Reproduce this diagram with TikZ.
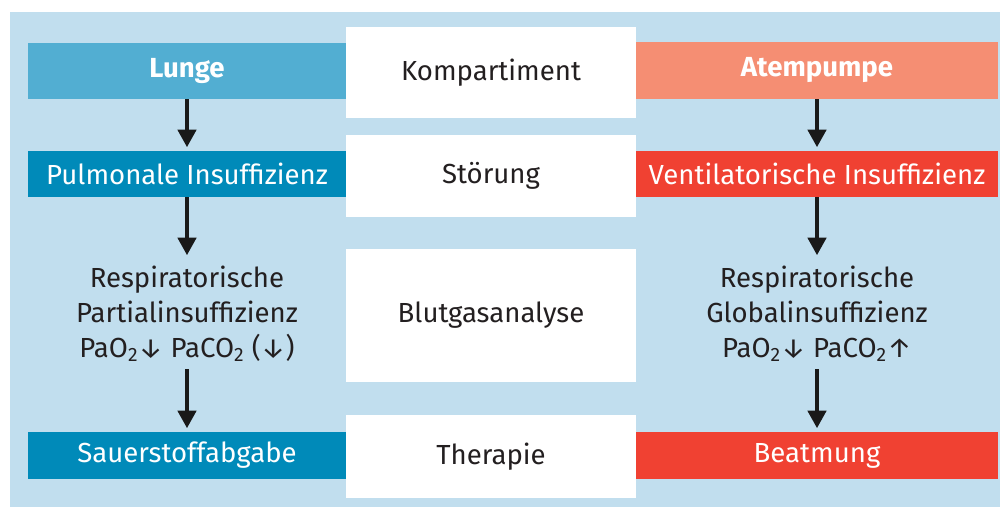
\documentclass[tikz,border=0pt]{standalone}
\usepackage{fontspec}
\setmainfont{Fira Sans}
\usepackage{tikz}
\usetikzlibrary{positioning,arrows.meta}
\definecolor{bgblue}{RGB}{193,222,238}
\definecolor{lungblue}{RGB}{82,174,210}
\definecolor{darkblue}{RGB}{0,138,185}
\definecolor{pumpsalmon}{RGB}{245,142,115}
\definecolor{pumpred}{RGB}{240,65,50}
\definecolor{textgray}{RGB}{35,31,32}

\begin{document}
\begin{tikzpicture}[x=0.02cm, y=-0.02cm,
    every node/.style={inner sep=0pt, font=\fontsize{15.7}{19.8}\selectfont, text=textgray},
    leftbox/.style={rectangle, minimum width=6.36cm, text=white},
    rightbox/.style={rectangle, minimum width=7.24cm, text=white},
    midbox/.style={rectangle, fill=white, minimum width=5.8cm},
    gastext/.style={align=center, minimum height=2.2cm},
    flow/.style={-{Triangle[width=10.5pt,length=10pt]}, line width=2pt, black!90, shorten >=2pt}]
    % Background
    \useasboundingbox (0,0) rectangle (1000,507);
    \fill[bgblue] (10,12) rectangle (1000,507);

    % Middle column
    \node[midbox, minimum height=1.82cm] (komp) at (491,72.5) {Kompartiment};
    \node[midbox, minimum height=1.64cm] (stoer) at (491,176) {Störung};
    \node[midbox, minimum height=2.66cm] (bga) at (491,315.5) {Blutgasanalyse};
    \node[midbox, minimum height=1.66cm] (ther) at (491,456.5) {Therapie};

    % Lung column
    \node[leftbox, fill=lungblue, minimum height=1.12cm, font=\fontsize{15.7}{19.8}\selectfont\bfseries] (lunge) at (187,71) {Lunge};
    \node[leftbox, fill=darkblue, minimum height=0.92cm] (pulm) at (187,174) {Pulmonale Insuffizienz};
    \node[gastext] (partial) at (187,314) {Respiratorische\\Partialinsuffizienz\\PaO\textsubscript{2}↓ PaCO\textsubscript{2} (↓)};
    \node[leftbox, fill=darkblue, minimum height=0.94cm] (sauer) at (187,455.5) {Sauerstoffabgabe};

    % Pump column
    \node[rightbox, fill=pumpsalmon, minimum height=1.14cm, font=\fontsize{15.7}{19.8}\selectfont\bfseries] (pumpe) at (817,70.5) {Atempumpe};
    \node[rightbox, fill=pumpred, minimum height=0.92cm] (vent) at (817,174) {Ventilatorische Insuffizienz};
    \node[gastext] (global) at (817,314) {Respiratorische\\Globalinsuffizienz\\PaO\textsubscript{2}↓ PaCO\textsubscript{2}↑};
    \node[rightbox, fill=pumpred, minimum height=0.94cm] (beat) at (817,455.5) {Beatmung};

    % Arrows
    \draw[flow] (lunge) -- (pulm);
    \draw[flow] (pulm) -- (partial);
    \draw[flow] (partial) -- (sauer);
    \draw[flow] (pumpe) -- (vent);
    \draw[flow] (vent) -- (global);
    \draw[flow] (global) -- (beat);
\end{tikzpicture}
\end{document}
